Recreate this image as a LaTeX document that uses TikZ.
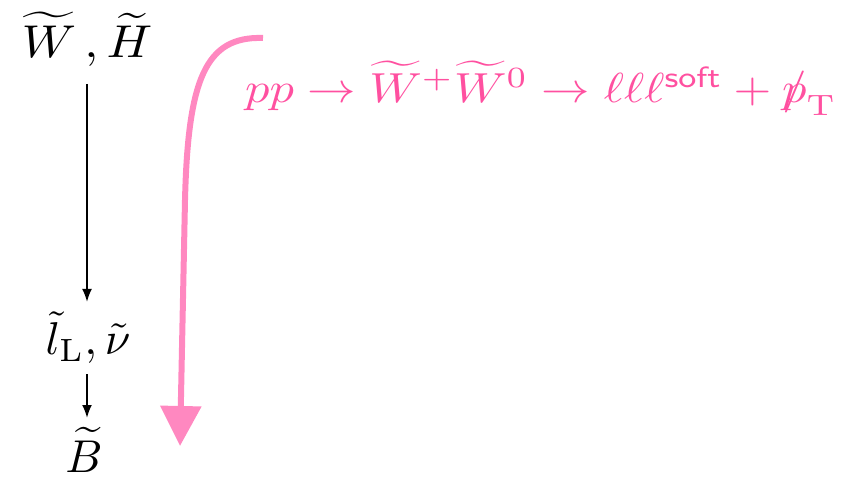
\documentclass[tikz,border=0pt]{standalone}
\usepackage{amsmath}
\usepackage{graphicx}
\usetikzlibrary{arrows.meta}
\definecolor{arrowpink}{HTML}{FF88C0}
\definecolor{textpink}{HTML}{FF50A0}
\newcommand{\pslash}{\ooalign{$p$\cr\hidewidth$/$\hidewidth\cr}}
\newcommand{\bigtxt}[1]{\scalebox{4.6}{#1}}
\newcommand{\pinktxt}[1]{\scalebox{4.85}[4.2]{#1}}
\tikzset{
  lbl/.style={inner sep=0pt},
  plbl/.style={inner sep=0pt, anchor=base west, text=textpink},
  blk/.style={-{Latex[length=13pt,width=10pt]}, line width=2pt},
  pinkarrow/.style={-{Triangle[length=40pt,width=40pt]}, line width=6pt, draw=arrowpink}
}
\begin{document}
\begin{tikzpicture}[x=1pt,y=-1pt]
\useasboundingbox (0,0) rectangle (844,481);
\node[lbl, anchor=base] (wh) at (87,58) {\scalebox{5.0}[4.6]{$\widetilde{W}\,, \widetilde{H}$}};
\node[lbl, anchor=base] (lv) at (88,355) {\bigtxt{$\tilde{l}_{\mathrm{L}}, \tilde{\nu}$}};
\node[lbl, anchor=base] (b) at (84,472) {\bigtxt{$\widetilde{B}$}};
\coordinate (a1s) at (87,84);
\coordinate (a1e) at (87,302);
\coordinate (a2s) at (87,374);
\coordinate (a2e) at (87,418);
\draw[blk] (a1s) -- (a1e);
\draw[blk] (a2s) -- (a2e);
\node[plbl] (proc) at (245,103) {\pinktxt{$pp \rightarrow \widetilde{W}^{+}\widetilde{W}^{0} \rightarrow \ell\ell\ell^{\textsf{soft}} + \pslash_{\mathrm{T}}$}};
\coordinate (ps) at (263,38);
\coordinate (pe) at (180,446);
\draw[pinkarrow] (ps) .. controls (205,36) and (188,80) .. (185,200) -- (pe);
\end{tikzpicture}
\end{document}
